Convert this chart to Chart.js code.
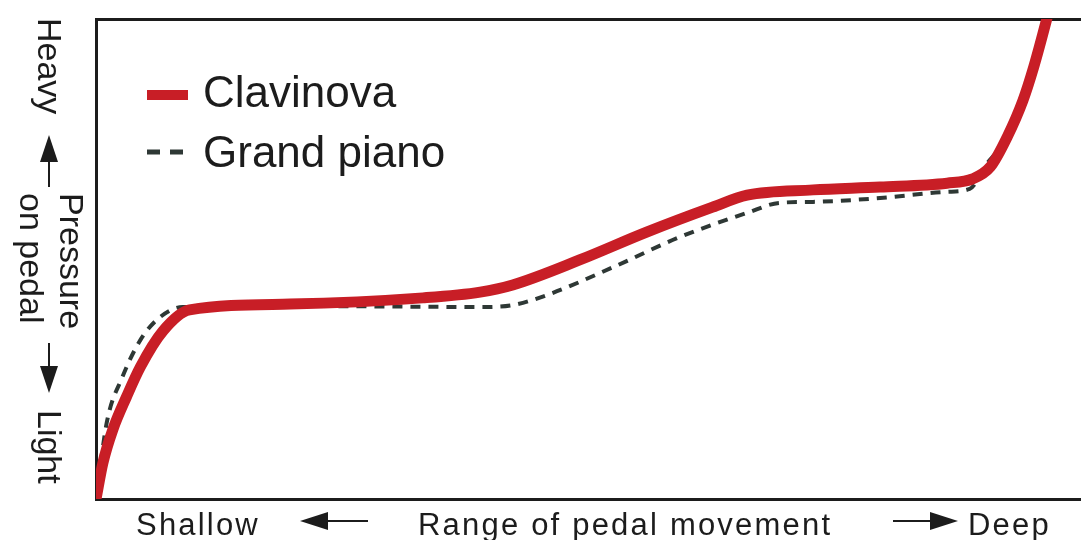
<!DOCTYPE html>
<html>
<head>
<meta charset="utf-8">
<script src="https://cdn.jsdelivr.net/npm/chart.js@4.4.0/dist/chart.umd.min.js"></script>
<style>
  body { margin: 0; background: #fff; }
  canvas { display: block; }
</style>
</head>
<body>
<canvas id="pedalChart" width="1081" height="540"></canvas>
<script>
// pedal travel (0 = shallow, 100 = deep) vs pressure (0 = light, 100 = heavy)
var clavinovaX = [0, 0.7, 1.7, 3.1, 4.5, 6.8, 9.5, 19.7, 33.2, 39, 42.3, 49.1, 55.9, 62.6, 66.1, 72.8, 79.6, 86.4, 89, 90.8, 92.5, 94.1, 95.2, 96.5, 97.2];
var clavinovaY = [0, 7.5, 14.4, 21.3, 27.5, 35, 39.4, 40.6, 41.9, 43.1, 44.6, 49.8, 55.6, 60.8, 63.3, 64.4, 65, 65.8, 66.7, 69.2, 75.4, 83, 90, 99.8, 105.5];
var grandX = [0, 1.1, 2.7, 4.5, 6.5, 8.8, 20.7, 39, 42.3, 45.8, 52.5, 59.3, 66.1, 69.4, 72.8, 79.6, 86.4, 88.7, 90.5, 91.8, 93, 94.3, 95.3, 96.5, 97.2];
var grandY = [0, 16, 25.5, 33.1, 37.9, 40, 40.2, 40, 40.4, 42.5, 48.3, 54.6, 59.6, 61.7, 61.9, 62.7, 64, 64.6, 70, 73.3, 78.3, 84, 91, 99.8, 105.5];

var seriesNames = ['Clavinova', 'Grand piano'];
var yLabels = { heavy: 'Heavy', line1: 'Pressure', line2: 'on pedal', light: 'Light' };
var xLabels = { shallow: 'Shallow', middle: 'Range of pedal movement', deep: 'Deep' };

function toPoints(xs, ys) {
  return xs.map(function(x, i) { return { x: x, y: ys[i] }; });
}

var ink = '#1c1c1c';

function arrow(ctx, x1, y1, x2, y2, head, half) {
  var ang = Math.atan2(y2 - y1, x2 - x1);
  var bx = x2 - Math.cos(ang) * head, by = y2 - Math.sin(ang) * head;
  ctx.beginPath();
  ctx.moveTo(x1, y1);
  ctx.lineTo(bx, by);
  ctx.lineWidth = 2;
  ctx.strokeStyle = ink;
  ctx.stroke();
  ctx.beginPath();
  ctx.moveTo(x2, y2);
  ctx.lineTo(bx - Math.sin(ang) * half, by + Math.cos(ang) * half);
  ctx.lineTo(bx + Math.sin(ang) * half, by - Math.cos(ang) * half);
  ctx.closePath();
  ctx.fillStyle = ink;
  ctx.fill();
}

var labelsPlugin = {
  id: 'labels',
  afterDraw: function(chart) {
    var ctx = chart.ctx;
    ctx.save();
    ctx.fillStyle = ink;
    ctx.textAlign = 'left';
    ctx.textBaseline = 'alphabetic';

    // left side, rotated
    ctx.font = '34px "Liberation Sans", Arial, sans-serif';
    [[yLabels.heavy, 38, 18], [yLabels.line1, 60, 193], [yLabels.line2, 20, 193], [yLabels.light, 38, 410]].forEach(function(t) {
      ctx.save();
      ctx.translate(t[1], t[2]);
      ctx.rotate(Math.PI / 2);
      ctx.fillText(t[0], 0, 0);
      ctx.restore();
    });
    arrow(ctx, 49, 187, 49, 135, 27, 9);
    arrow(ctx, 49, 343, 49, 393, 27, 9);

    // bottom
    ctx.fillStyle = ink;
    ctx.font = '31px "Liberation Sans", Arial, sans-serif';
    ctx.letterSpacing = '2.2px';
    ctx.fillText(xLabels.shallow, 136, 535);
    ctx.fillText(xLabels.middle, 418, 535);
    ctx.fillText(xLabels.deep, 968, 535);
    ctx.letterSpacing = '0px';
    arrow(ctx, 368, 521, 300, 521, 28, 9);
    arrow(ctx, 893, 521, 958, 521, 28, 9);

    // legend
    var rows = [95, 152];
    chart.data.datasets.forEach(function(ds, i) {
      ctx.save();
      ctx.beginPath();
      ctx.strokeStyle = ds.borderColor;
      ctx.lineWidth = i === 0 ? 10 : 5;
      ctx.setLineDash(i === 0 ? [] : [13, 10]);
      ctx.moveTo(147, rows[i]);
      ctx.lineTo(i === 0 ? 188 : 183, rows[i]);
      ctx.stroke();
      ctx.restore();
      ctx.fillStyle = ink;
      ctx.font = '44px "Liberation Sans", Arial, sans-serif';
      ctx.fillText(ds.label, 203, rows[i] + (i === 0 ? 12 : 15));
    });
    ctx.restore();
  }
};

var hideSize = function(scale) {
  if (scale.isHorizontal()) scale.height = 0; else scale.width = 0;
};

new Chart(document.getElementById('pedalChart'), {
  type: 'line',
  data: {
    datasets: [
      {
        label: seriesNames[0],
        data: toPoints(clavinovaX, clavinovaY),
        borderColor: '#c81e26',
        borderWidth: 11,
        cubicInterpolationMode: 'monotone',
        pointRadius: 0,
        clip: 0,
        order: 1
      },
      {
        label: seriesNames[1],
        data: toPoints(grandX, grandY),
        borderColor: '#2e3835',
        borderWidth: 4,
        borderDash: [10, 8],
        cubicInterpolationMode: 'monotone',
        pointRadius: 0,
        clip: 0,
        order: 2
      }
    ]
  },
  options: {
    responsive: false,
    animation: false,
    layout: { padding: { left: 96, top: 19, right: 0, bottom: 41 } },
    plugins: { legend: { display: false }, tooltip: { enabled: false } },
    scales: {
      x: {
        type: 'linear', min: 0, max: 100, position: 'bottom',
        ticks: { display: false }, grid: { display: false },
        border: { display: true, color: ink, width: 3 },
        afterFit: hideSize
      },
      xTop: {
        type: 'linear', min: 0, max: 100, position: 'top',
        ticks: { display: false }, grid: { display: false },
        border: { display: true, color: ink, width: 3 },
        afterFit: hideSize
      },
      y: {
        type: 'linear', min: 0, max: 100,
        ticks: { display: false }, grid: { display: false },
        border: { display: true, color: ink, width: 3 },
        afterFit: hideSize
      }
    }
  },
  plugins: [labelsPlugin]
});
</script>
</body>
</html>
